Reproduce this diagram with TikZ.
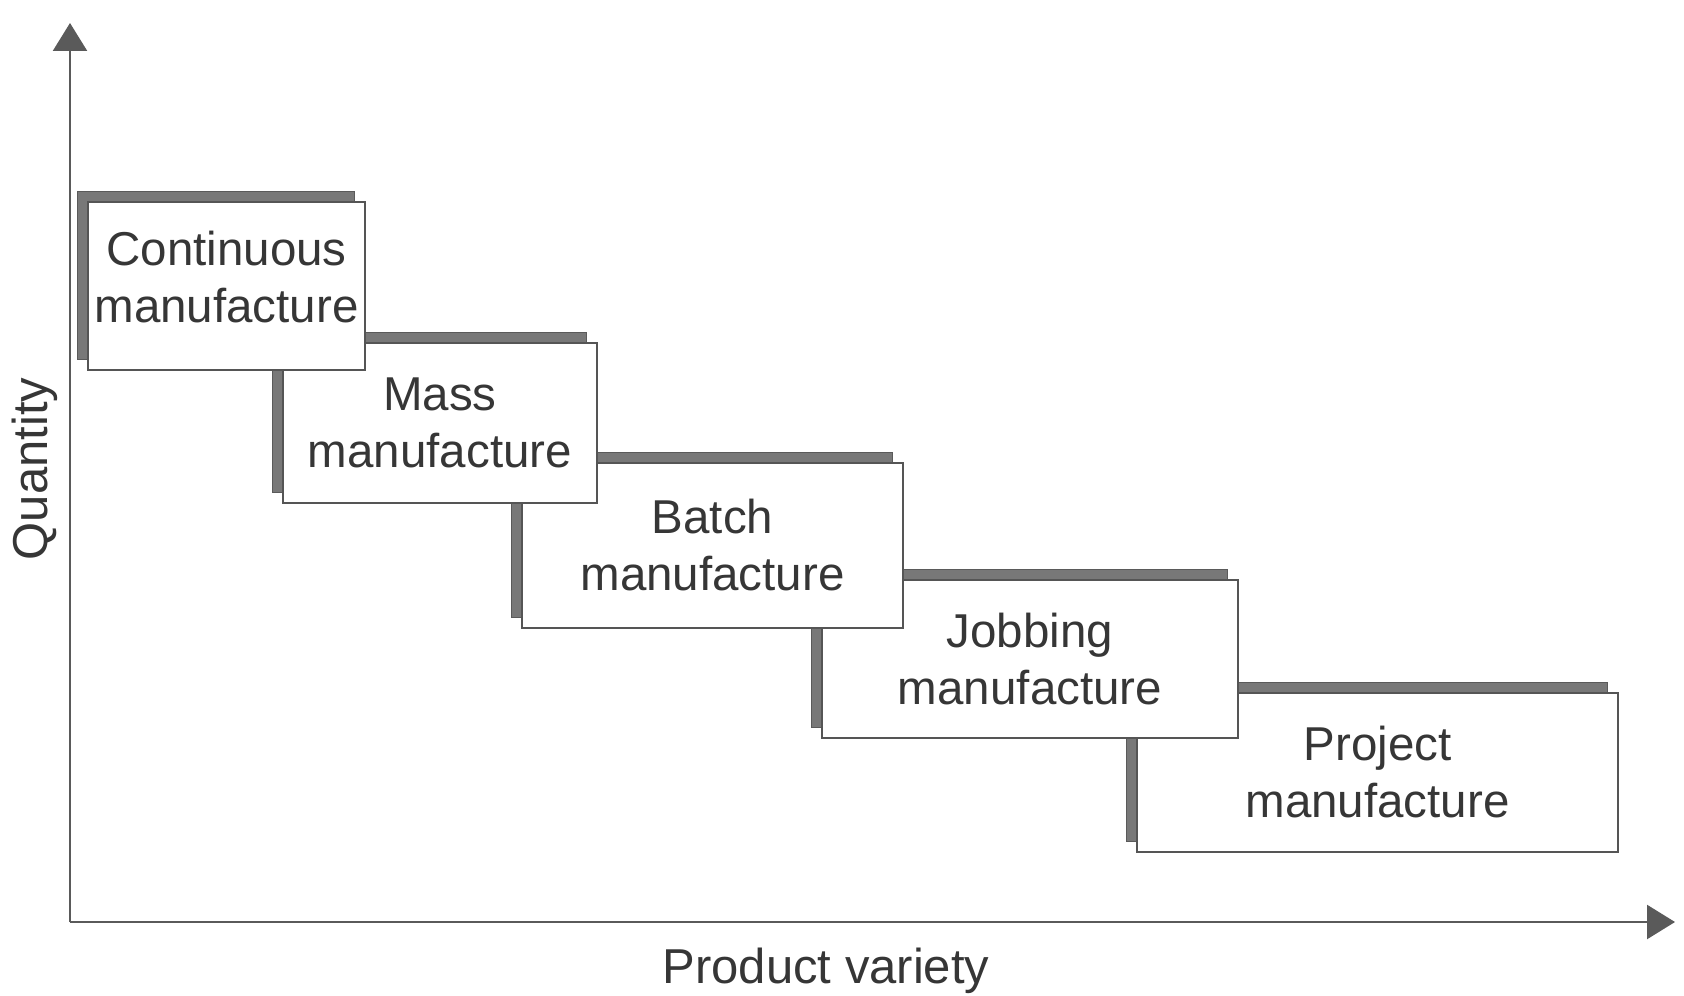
\documentclass[tikz,border=0pt]{standalone}
\usepackage{fontspec}
\setmainfont{Liberation Sans}
\usetikzlibrary{arrows.meta,shadows}
\definecolor{inkc}{HTML}{363636}
\definecolor{axisc}{HTML}{5A5A5A}
\definecolor{boxc}{HTML}{555555}
\definecolor{shadowc}{HTML}{787878}
\newcommand\stepfont{\fontsize{23.75}{28.5}\selectfont}
\newcommand\axisfont{\fontsize{24.5}{29}\selectfont}
\begin{document}
\begin{tikzpicture}[x=0.5pt,y=-0.5pt,
  axis/.style={draw=axisc, line width=1.2pt, -{Triangle[width=17pt,length=14pt]}},
  stepbox/.style={draw=boxc, line width=1pt, fill=white, inner sep=0pt,
    align=center, text=inkc, font=\stepfont,
    general shadow={fill=shadowc, draw=shadowc!75!black, line width=0.4pt,
      shadow xshift=-5.5pt, shadow yshift=5.5pt}},
  axislabel/.style={text=inkc, inner sep=0pt, anchor=base, font=\axisfont}]
\useasboundingbox (0,0) rectangle (1684,995);

% axes
\coordinate (O) at (70,922);
\coordinate (ytip) at (70,23);
\coordinate (xtip) at (1675,922);
\draw[axis] (O) -- (ytip);
\draw[axis] (O) -- (xtip);
\node[axislabel, rotate=90] (qty) at (47,469) {Quantity};
\node[axislabel] (var) at (826,983) {Product variety};

% the five process types, drawn from the last step back to the first
\node[stepbox, minimum width=240.5pt, minimum height=79.5pt] (proj) at (1377.5,772.5) {Project\\manufacture};
\node[stepbox, minimum width=208pt, minimum height=79pt] (job) at (1030,659) {Jobbing\\manufacture};
\node[stepbox, minimum width=190.5pt, minimum height=82.5pt] (batch) at (712.5,545.5) {Batch\\manufacture};
\node[stepbox, minimum width=157pt, minimum height=80pt] (mass) at (440,423) {Mass\\manufacture};
\node[stepbox, minimum width=138.5pt, minimum height=84pt, text depth=9pt] (cont) at (226.5,286) {Continuous\\manufacture};
\end{tikzpicture}
\end{document}
